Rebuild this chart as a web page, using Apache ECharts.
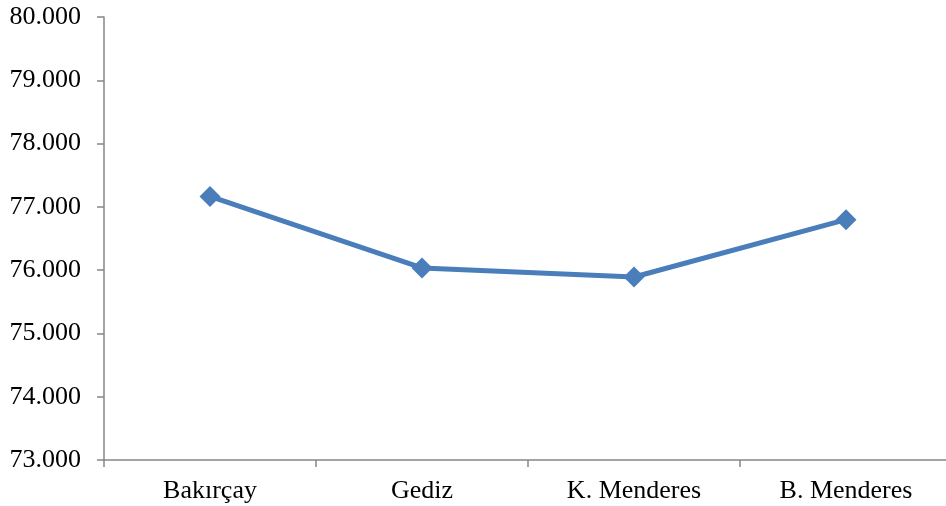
<!DOCTYPE html>
<html>
<head>
<meta charset="utf-8">
<script src="https://cdn.jsdelivr.net/npm/echarts@6/dist/echarts.min.js"></script>
<style>
  html, body { margin: 0; padding: 0; background: #fff; }
  #chart { width: 946px; height: 506px; }
</style>
</head>
<body>
<div id="chart"></div>
<script>
// Basins along the x axis
const categories = ['Bakırçay', 'Gediz', 'K. Menderes', 'B. Menderes'];
// Values per basin
const values = [77.165, 76.034, 75.892, 76.797];
// Value axis range
const yMin = 73;
const yMax = 80;
const yStep = 1;

const axisGray = '#868686';
const lineBlue = '#4a7ebb';
const fontFamily = '"Liberation Serif", "Times New Roman", serif';

const chart = echarts.init(document.getElementById('chart'), null, { renderer: 'canvas' });
chart.setOption({
  animation: false,
  backgroundColor: '#ffffff',
  // plot area runs slightly past the right edge of the canvas
  grid: {
    left: 104, width: 848, top: 17, height: 443,
    containLabel: false, outerBoundsMode: 'none'
  },
  xAxis: {
    type: 'category',
    data: categories,
    boundaryGap: true,
    axisLine: { show: true, lineStyle: { color: axisGray, width: 1.5 } },
    axisTick: { show: true, length: 7, lineStyle: { color: axisGray, width: 1.5 } },
    axisLabel: { color: '#000', fontFamily: fontFamily, fontSize: 26, margin: 18 },
    splitLine: { show: false }
  },
  yAxis: {
    type: 'value',
    min: yMin,
    max: yMax,
    interval: yStep,
    axisLine: { show: true, lineStyle: { color: axisGray, width: 1.5 } },
    axisTick: { show: true, length: 7, lineStyle: { color: axisGray, width: 1.5 } },
    axisLabel: {
      color: '#000', fontFamily: fontFamily, fontSize: 26, margin: 23,
      formatter: v => v.toFixed(3)
    },
    splitLine: { show: false }
  },
  series: [{
    type: 'line',
    data: values,
    lineStyle: { color: lineBlue, width: 5 },
    itemStyle: { color: lineBlue },
    symbol: 'diamond',
    symbolSize: 21,
    showSymbol: true
  }]
});
</script>
</body>
</html>
